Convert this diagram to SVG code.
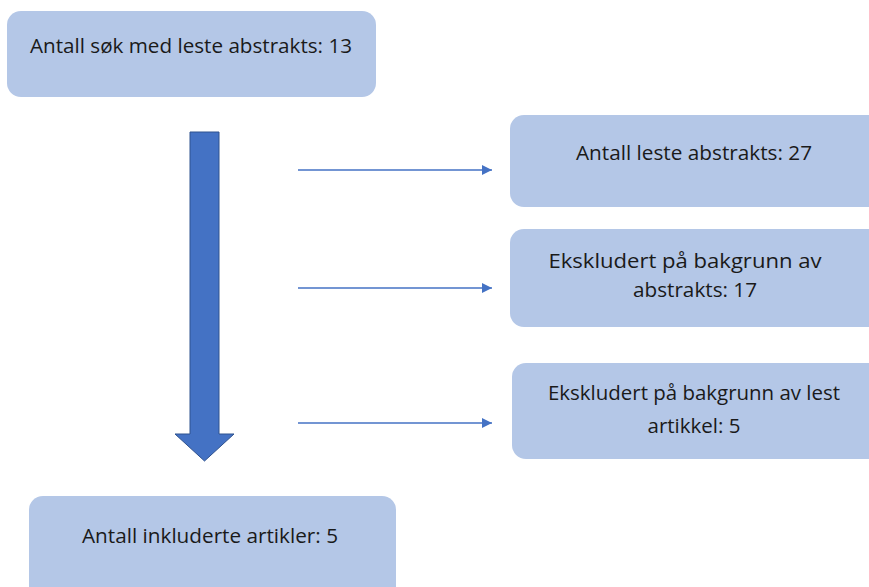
<svg xmlns="http://www.w3.org/2000/svg" width="869" height="587" viewBox="0 0 869 587">
<defs>
<style>
.box{fill:#B4C7E7;}
.t{font-family:"Open Sans","Noto Sans","Liberation Sans",sans-serif;font-size:20px;fill:#1a1a1a;text-anchor:middle;}
.ln{stroke:#4472C4;stroke-width:1.6;fill:none;marker-end:url(#ah);}
</style>
<marker id="ah" viewBox="0 0 10 10" refX="10" refY="5" markerWidth="10" markerHeight="10" markerUnits="userSpaceOnUse" orient="auto">
<path d="M0,0 L10,5 L0,10 Z" fill="#4472C4"/>
</marker>
</defs>
<rect width="869" height="587" fill="#fff"/>
<g id="n1">
<rect class="box" x="7" y="11" width="369" height="86" rx="14"/>
<text class="t" x="191" y="53" textLength="322" lengthAdjust="spacingAndGlyphs">Antall søk med leste abstrakts: 13</text>
</g>
<g id="n2">
<rect class="box" x="510" y="115" width="375" height="92" rx="14"/>
<text class="t" x="694" y="160" textLength="236" lengthAdjust="spacingAndGlyphs">Antall leste abstrakts: 27</text>
</g>
<g id="n3">
<rect class="box" x="510" y="229" width="375" height="98" rx="14"/>
<text class="t" x="685" y="268" textLength="273" lengthAdjust="spacingAndGlyphs">Ekskludert på bakgrunn av</text>
<text class="t" x="695" y="297" textLength="124" lengthAdjust="spacingAndGlyphs">abstrakts: 17</text>
</g>
<g id="n4">
<rect class="box" x="512" y="363" width="373" height="96" rx="14"/>
<text class="t" x="694" y="400" textLength="292" lengthAdjust="spacingAndGlyphs">Ekskludert på bakgrunn av lest</text>
<text class="t" x="694" y="433" textLength="93" lengthAdjust="spacingAndGlyphs">artikkel: 5</text>
</g>
<g id="n5">
<rect class="box" x="29" y="496" width="367" height="110" rx="14"/>
<text class="t" x="210" y="543" textLength="256" lengthAdjust="spacingAndGlyphs">Antall inkluderte artikler: 5</text>
</g>
<g id="connectors">
<path d="M190,132 H219 V434 H234 L204.5,461 L175,434 H190 Z" fill="#4472C4" stroke="#2F528F" stroke-width="1"/>
<line class="ln" x1="298" y1="170" x2="492" y2="170"/>
<line class="ln" x1="298" y1="288" x2="492" y2="288"/>
<line class="ln" x1="298" y1="423" x2="492" y2="423"/>
</g>
</svg>
